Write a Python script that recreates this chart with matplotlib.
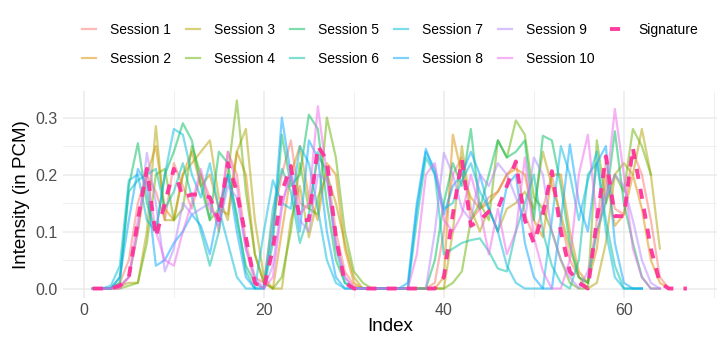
import matplotlib
matplotlib.use("Agg")
import matplotlib.pyplot as plt
from matplotlib.ticker import MultipleLocator

plt.rcParams['font.family'] = ['Liberation Sans', 'DejaVu Sans']

# intensity per index, one list per session (index starts at 1)
session1 = [0, 0, 0, 0.01, 0.05, 0.15, 0.2, 0.17, 0.12, 0.22, 0.18, 0.14, 0.2, 0.16, 0.1, 0.24, 0.2, 0.08, 0.02, 0.01,
            0.12, 0.2, 0.26, 0.15, 0.14, 0.23, 0.21, 0.1, 0.03, 0.005, 0, 0, 0, 0, 0, 0, 0, 0, 0.01, 0.1,
            0.2, 0.23, 0.12, 0.14, 0.16, 0.17, 0.2, 0.22, 0.13, 0.09, 0.14, 0.2, 0.12, 0.05, 0.02, 0.01, 0.12, 0.22, 0.14, 0.13,
            0.24, 0.2, 0.12, 0.02, 0]
session2 = [0, 0, 0, 0.005, 0.02, 0.1, 0.2, 0.25, 0.14, 0.12, 0.2, 0.24, 0.18, 0.2, 0.14, 0.13, 0.24, 0.2, 0.06, 0.01,
            0, 0.1, 0.2, 0.25, 0.16, 0.12, 0.22, 0.2, 0.07, 0.01, 0, 0, 0, 0, 0, 0, 0, 0, 0, 0.02,
            0.27, 0.2, 0.16, 0.14, 0.15, 0.17, 0.2, 0.21, 0.2, 0.12, 0.09, 0.2, 0.2, 0.1, 0.03, 0.01, 0.07, 0.2, 0.11, 0.13,
            0.2, 0.14, 0.05, 0.01, 0]
session3 = [0, 0, 0, 0.005, 0.01, 0.01, 0.1, 0.285, 0.12, 0.12, 0.2, 0.22, 0.24, 0.26, 0.16, 0.12, 0.24, 0.28, 0.12, 0.02,
            0, 0, 0.12, 0.18, 0.09, 0.16, 0.2, 0.15, 0.08, 0.02, 0, 0, 0, 0, 0, 0, 0, 0, 0, 0,
            0.1, 0.25, 0.14, 0.1, 0.14, 0.1, 0.14, 0.15, 0.17, 0.14, 0.24, 0.18, 0.13, 0.07, 0.02, 0, 0.01, 0.08, 0.2, 0.22,
            0.2, 0.28, 0.2, 0.07]
session4 = [0, 0, 0, 0, 0.005, 0.01, 0.08, 0.2, 0.21, 0.12, 0.14, 0.25, 0.2, 0.12, 0.14, 0.2, 0.33, 0.17, 0.06, 0.01,
            0, 0.02, 0.1, 0.22, 0.14, 0.13, 0.3, 0.23, 0.1, 0.03, 0.01, 0, 0, 0, 0, 0, 0, 0, 0, 0,
            0.01, 0.03, 0.12, 0.15, 0.12, 0.26, 0.23, 0.295, 0.27, 0.16, 0.14, 0.1, 0.05, 0.01, 0, 0, 0.26, 0.15, 0.2, 0.17,
            0.28, 0.25, 0.2]
session5 = [0, 0, 0, 0.01, 0.18, 0.255, 0.15, 0.1, 0.2, 0.24, 0.29, 0.26, 0.18, 0.12, 0.24, 0.22, 0.12, 0.04, 0.01, 0,
            0.08, 0.27, 0.18, 0.2, 0.305, 0.28, 0.15, 0.05, 0.01, 0, 0, 0, 0, 0, 0, 0, 0, 0, 0.05, 0.15,
            0.22, 0.18, 0.28, 0.14, 0.2, 0.26, 0.23, 0.24, 0.26, 0.12, 0.268, 0.26, 0.18, 0.08, 0.02, 0.01, 0.1, 0.15, 0.276, 0.15,
            0.08, 0.02, 0, 0]
session6 = [0, 0, 0, 0.02, 0.17, 0.19, 0.2, 0.21, 0.14, 0.17, 0.22, 0.16, 0.1, 0.04, 0.1, 0.2, 0.13, 0.03, 0, 0,
            0.14, 0.21, 0.17, 0.08, 0.13, 0.24, 0.2, 0.07, 0.01, 0, 0, 0, 0, 0, 0, 0, 0.12, 0.23, 0.2, 0.06,
            0.07, 0.08, 0.085, 0.088, 0.065, 0.035, 0.03, 0.1, 0.15, 0.2, 0.1, 0.04, 0.01, 0, 0.05, 0.2, 0.22, 0.12, 0.04, 0,
            0, 0]
session7 = [0, 0, 0.005, 0.04, 0.19, 0.2, 0.12, 0.1, 0.2, 0.28, 0.27, 0.2, 0.16, 0.22, 0.14, 0.08, 0.02, 0, 0, 0.1,
            0.19, 0.15, 0.14, 0.25, 0.22, 0.14, 0.05, 0.01, 0, 0, 0, 0, 0, 0, 0, 0, 0.14, 0.24, 0.21, 0.14,
            0.15, 0.19, 0.22, 0.17, 0.14, 0.1, 0.04, 0.01, 0, 0, 0, 0.12, 0.25, 0.2, 0.12, 0.19, 0.24, 0.1, 0.02, 0,
            0, 0]
session8 = [0, 0, 0, 0.02, 0.12, 0.21, 0.18, 0.04, 0.05, 0.08, 0.1, 0.13, 0.11, 0.06, 0.14, 0.2, 0.1, 0.02, 0, 0,
            0.1, 0.3, 0.2, 0.1, 0.26, 0.23, 0.1, 0.02, 0, 0, 0, 0, 0, 0, 0, 0.01, 0.15, 0.245, 0.2, 0.13,
            0.18, 0.2, 0.24, 0.2, 0.14, 0.1, 0.18, 0.2, 0.08, 0.02, 0, 0, 0.12, 0.253, 0.15, 0.1, 0.22, 0.25, 0.08, 0.01,
            0, 0]
session9 = [0, 0, 0, 0.005, 0.02, 0.1, 0.238, 0.15, 0.03, 0.07, 0.15, 0.13, 0.14, 0.15, 0.11, 0.18, 0.16, 0.07, 0.02, 0,
            0.04, 0.15, 0.2, 0.12, 0.1, 0.2, 0.19, 0.08, 0.02, 0, 0, 0, 0, 0, 0, 0, 0, 0, 0.1, 0.238,
            0.2, 0.14, 0.12, 0.2, 0.18, 0.22, 0.2, 0.16, 0.12, 0.23, 0.2, 0.1, 0.05, 0.02, 0, 0.03, 0.1, 0.16, 0.2, 0.18,
            0.12, 0.05, 0.01, 0]
session10 = [0, 0, 0, 0, 0.02, 0.12, 0.2, 0.1, 0.05, 0.04, 0.1, 0.15, 0.21, 0.14, 0.12, 0.24, 0.18, 0.07, 0.01, 0,
             0.02, 0.14, 0.21, 0.13, 0.15, 0.32, 0.2, 0.08, 0.02, 0, 0, 0, 0, 0, 0, 0, 0.06, 0.2, 0.22, 0.12,
             0.1, 0.13, 0.2, 0.14, 0.06, 0.14, 0.06, 0.1, 0.23, 0.09, 0.03, 0, 0, 0.05, 0.2, 0.27, 0.12, 0.17, 0.315, 0.2,
             0.07, 0.02, 0, 0]
signature = [0, 0, 0, 0.005, 0.02, 0.12, 0.21, 0.09, 0.15, 0.21, 0.16, 0.165, 0.165, 0.16, 0.12, 0.22, 0.17, 0.09, 0.01, 0,
             0.07, 0.17, 0.215, 0.12, 0.12, 0.25, 0.225, 0.09, 0.01, 0, 0, 0, 0, 0, 0, 0, 0, 0, 0, 0.02,
             0.13, 0.226, 0.11, 0.12, 0.135, 0.14, 0.18, 0.223, 0.12, 0.08, 0.13, 0.206, 0.1, 0.03, 0.01, 0, 0.12, 0.232, 0.127, 0.127,
             0.247, 0.16, 0.07, 0.01, 0, 0, 0]

sessions = [session1, session2, session3, session4, session5, session6, session7, session8, session9, session10]
labels = ['Session ' + str(i + 1) for i in range(10)]
colors = ['#F8766D', '#DB8E00', '#AEA200', '#64B200', '#00BD5C', '#00C1A7', '#00BADE', '#00A6FF', '#B385FF', '#EF67EB']
sig_color = '#FF3399'

fig = plt.figure(figsize=(7.26, 3.53), dpi=100)
ax = fig.add_axes([0.087, 0.156, 0.9, 0.586])

for i, s in enumerate(sessions):
    ax.plot(range(1, len(s) + 1), s, color=colors[i], alpha=0.5, linewidth=1.6, label=labels[i])
ax.plot(range(1, len(signature) + 1), signature, color=sig_color, alpha=0.95, linewidth=2.8,
        dashes=(2.6, 2.6), label='Signature')

ax.margins(x=0.05, y=0.05)
ax.xaxis.set_major_locator(MultipleLocator(20))
ax.xaxis.set_minor_locator(MultipleLocator(10))
ax.yaxis.set_major_locator(MultipleLocator(0.1))
ax.yaxis.set_minor_locator(MultipleLocator(0.05))
ax.yaxis.set_major_formatter(matplotlib.ticker.FormatStrFormatter('%.1f'))
ax.grid(which='major', color='#EBEBEB', linewidth=1.1)
ax.grid(which='minor', color='#EBEBEB', linewidth=0.55)
ax.set_axisbelow(True)
for sp in ax.spines.values():
    sp.set_visible(False)
ax.tick_params(which='both', length=0, labelsize=11.5, labelcolor='#4D4D4D', pad=4)
ax.set_xlabel('Index', fontsize=13.5, labelpad=0)
ax.set_ylabel('Intensity (in PCM)', fontsize=13.5, labelpad=4)

leg = ax.legend(ncol=6, loc='lower center', bbox_to_anchor=(0.5, 1.06), frameon=False, fontsize=10,
                handlelength=1.0, handletextpad=1.0, columnspacing=1.1, labelspacing=1.1)

plt.savefig('out.png', dpi=100)
